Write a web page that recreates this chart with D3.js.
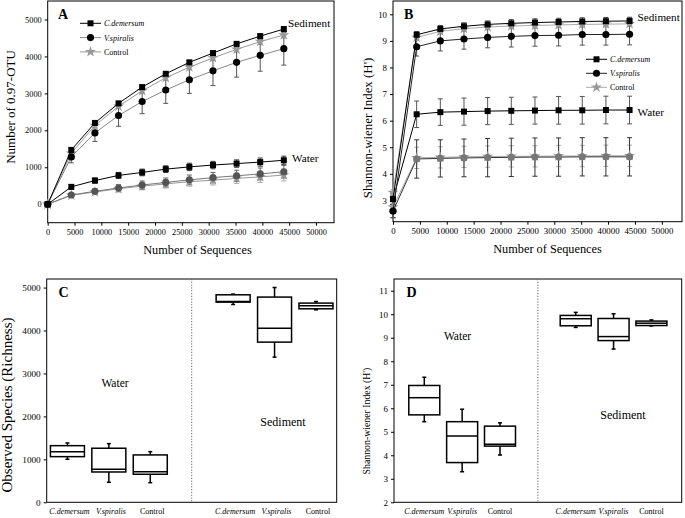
<!DOCTYPE html>
<html><head><meta charset="utf-8">
<script src="https://cdn.jsdelivr.net/npm/d3@7"></script>
<style>body{margin:0;background:#fff}svg{display:block}</style>
</head><body>
<svg id="c" width="685" height="518"></svg>
<script>
// ---------- DATA ----------
const seqDepth = [0,4400,8800,13200,17600,22000,26400,30800,35200,39600,44000];
const speciesNames = ["C.demersum","V.spiralis","Control"];

// Panel A: Number of 0.97-OTU
const otuSedimentCdem    = [0,1470,2200,2730,3170,3530,3840,4090,4340,4550,4740];
const otuSedimentCdemErr = [0,40,40,45,50,50,50,50,55,55,60];
const otuSedimentVspi    = [0,1280,1930,2400,2780,3090,3370,3610,3840,4030,4210];
const otuSedimentVspiErr = [0,160,230,290,330,360,370,400,400,430,445];
const otuSedimentCtrl    = [0,1380,2130,2650,3070,3420,3710,3960,4190,4400,4580];
const otuSedimentCtrlErr = [0,50,60,60,70,70,70,70,70,80,80];
const otuWaterCdem       = [0,470,640,780,860,950,1010,1060,1100,1140,1190];
const otuWaterCdemErr    = [0,60,70,80,90,90,100,100,100,110,110];
const otuWaterVspi       = [0,250,350,440,520,590,660,720,770,820,880];
const otuWaterVspiErr    = [0,50,70,90,110,120,130,140,150,160,170];
const otuWaterCtrl       = [0,240,330,420,490,550,610,650,700,740,790];
const otuWaterCtrlErr    = [0,50,70,90,100,110,120,130,140,150,160];

// Panel B: Shannon-wiener index
const shSedimentCdem    = [3.05,9.23,9.45,9.55,9.62,9.66,9.69,9.71,9.73,9.74,9.75];
const shSedimentCdemErr = [0.2,0.12,0.13,0.13,0.13,0.14,0.14,0.14,0.14,0.14,0.14];
const shSedimentVspi    = [2.6,8.78,9.0,9.07,9.13,9.17,9.2,9.21,9.24,9.24,9.25];
const shSedimentVspiErr = [0.25,0.35,0.38,0.38,0.39,0.4,0.4,0.4,0.4,0.4,0.4];
const shSedimentCtrl    = [3.3,9.13,9.36,9.46,9.52,9.56,9.58,9.6,9.62,9.63,9.64];
const shSedimentCtrlErr = [0.1,0.1,0.1,0.1,0.1,0.1,0.1,0.1,0.1,0.1,0.1];
const shWaterCdem       = [3.05,6.24,6.32,6.34,6.36,6.37,6.38,6.39,6.39,6.40,6.40];
const shWaterCdemErr    = [0.2,0.5,0.5,0.51,0.51,0.51,0.51,0.52,0.52,0.52,0.52];
const shWaterVspi       = [2.6,4.56,4.58,4.6,4.61,4.62,4.63,4.63,4.64,4.64,4.64];
const shWaterVspiErr    = [0.25,0.72,0.7,0.71,0.72,0.72,0.72,0.72,0.72,0.72,0.72];
const shWaterCtrl       = [2.75,4.6,4.62,4.64,4.65,4.66,4.66,4.67,4.67,4.68,4.68];
const shWaterCtrlErr    = [0.1,0.4,0.4,0.4,0.4,0.4,0.4,0.4,0.4,0.4,0.4];

// Panels C/D box stats: [min, q1, median, q3, max]
const boxSlots = ["W-C","W-V","W-K","gap","S-C","S-V","S-K"];
const richWaterCdem = [1002,1063,1179,1319,1382];
const richWaterVspi = [466,706,769,1259,1366];
const richWaterCtrl = [457,653,713,1103,1179];
const richSedCdem   = [4606,4662,4676,4832,4848];
const richSedVspi   = [3380,3730,4056,4779,5002];
const richSedCtrl   = [4483,4506,4576,4639,4676];
const shBoxWaterCdem = [5.43,5.72,6.45,6.97,7.32];
const shBoxWaterVspi = [3.30,3.69,4.82,5.43,5.96];
const shBoxWaterCtrl = [4.01,4.39,4.47,5.24,5.38];
const shBoxSedCdem   = [9.44,9.51,9.81,9.95,10.08];
const shBoxSedVspi   = [8.52,8.88,9.05,9.82,10.02];
const shBoxSedCtrl   = [9.50,9.52,9.62,9.71,9.76];

const xTicksSeq = [0,5000,10000,15000,20000,25000,30000,35000,40000,45000,50000];
const yTicksA = [0,1000,2000,3000,4000,5000];
const yTicksB = [3,4,5,6,7,8,9,10];
const yTicksC = [0,1000,2000,3000,4000,5000];
const yTicksD = [2,3,4,5,6,7,8,9,10,11];

// ---------- DRAW ----------
const FONT = "'Liberation Serif', Tinos, 'Times New Roman', serif";
const svg = d3.select("#c").attr("font-family", FONT);

function frame(g, x0, x1, y0, y1){
  g.append("rect").attr("x",x0).attr("y",y0).attr("width",x1-x0).attr("height",y1-y0)
   .attr("fill","none").attr("stroke","#000").attr("stroke-width",1);
}
function styleAxis(sel, fs){
  sel.attr("font-family", FONT);
  sel.select(".domain").remove();
  sel.selectAll(".tick line").attr("stroke","#000");
  sel.selectAll(".tick text").attr("font-size",fs+"px").attr("fill","#000").attr("font-family", FONT);
}

const symSquare = d3.symbol().type(d3.symbolSquare).size(36)();
const symCircle = d3.symbol().type(d3.symbolCircle).size(40)();
const symStar   = d3.symbol().type(d3.symbolStar).size(38)();

function linePanel(o){
  const g = svg.append("g");
  const x = d3.scaleLinear().domain(o.xDomain).range([o.x0,o.x1]);
  const y = d3.scaleLinear().domain(o.yDomain).range([o.y1,o.y0]);
  g.append("g").attr("transform",`translate(0,${o.y1})`)
    .call(d3.axisBottom(x).tickValues(xTicksSeq).tickFormat(d3.format("d")).tickSize(3).tickPadding(3)).call(s=>styleAxis(s,o.tickFs));
  g.append("g").attr("transform",`translate(${o.x0},0)`)
    .call(d3.axisLeft(y).tickValues(o.yTicks).tickFormat(d3.format("d")).tickSize(3).tickPadding(3)).call(s=>styleAxis(s,o.tickFs));
  frame(g,o.x0,o.x1,o.y0,o.y1);
  const line = d3.line().x((d,i)=>x(seqDepth[i])).y(d=>y(d));
  o.series.forEach(s=>{
    const eb = g.append("g").attr("stroke",s.errColor).attr("stroke-width",1);
    s.values.forEach((v,i)=>{
      const e = s.err[i]; if(!e) return;
      const cx = x(seqDepth[i]);
      eb.append("line").attr("x1",cx).attr("x2",cx).attr("y1",y(v-e)).attr("y2",y(v+e));
      [v-e,v+e].forEach(w=>eb.append("line").attr("x1",cx-2.5).attr("x2",cx+2.5).attr("y1",y(w)).attr("y2",y(w)));
    });
  });
  o.series.forEach(s=>{
    g.append("path").attr("d",line(s.values)).attr("fill","none").attr("stroke",s.lineColor).attr("stroke-width",1);
    g.selectAll(null).data(s.values).join("path").attr("d",s.sym)
      .attr("transform",(d,i)=>`translate(${x(seqDepth[i])},${y(d)})`).attr("fill",s.markColor);
  });
  o.legend.forEach((L,i)=>{
    const ly = o.legY + i*o.legStep;
    g.append("line").attr("x1",o.legX).attr("x2",o.legX+21).attr("y1",ly).attr("y2",ly).attr("stroke",L.lineColor);
    g.append("path").attr("d",L.sym).attr("transform",`translate(${o.legX+10.5},${ly})`).attr("fill",L.markColor);
    g.append("text").attr("x",o.legX+24).attr("y",ly+3).attr("font-size","8px")
      .attr("font-style",i<2?"italic":"normal").attr("fill","#000").text(speciesNames[i]);
  });
  g.append("text").attr("x",o.letX).attr("y",o.letY).attr("font-weight","bold").attr("font-size","14px").text(o.letter);
  o.notes.forEach(n=>g.append("text").attr("x",n[1]).attr("y",n[2]).attr("font-size","11.2px").text(n[0]));
  g.append("text").attr("x",o.xLabX).attr("y",o.y1+31).attr("text-anchor","middle").attr("font-size","12.3px").text("Number of Sequences");
  g.append("text").attr("transform",`translate(${o.yLabX},${o.yLabY}) rotate(-90)`).attr("text-anchor","middle").attr("font-size",o.yLabFs+"px").text(o.yLabel);
}

linePanel({
  x0:47.7,x1:334,y0:1,y1:222.7,xDomain:[0,53350],yDomain:[-500,5500],yTicks:yTicksA,tickFs:8.3,
  letter:"A",letX:58,letY:18.5,xLabX:197.5,
  yLabel:"Number of 0.97-OTU",yLabX:15,yLabY:107,yLabFs:13,
  notes:[["Sediment",288,27],["Water",292,162]],
  legX:80,legY:23.3,legStep:14.3,
  legend:[{lineColor:"#000",markColor:"#000",sym:symSquare},{lineColor:"#888",markColor:"#000",sym:symCircle},{lineColor:"#999",markColor:"#999",sym:symStar}],
  series:[
    {values:otuWaterCtrl,err:otuWaterCtrlErr,lineColor:"#999",markColor:"#999",errColor:"#aaa",sym:symStar},
    {values:otuWaterVspi,err:otuWaterVspiErr,lineColor:"#777",markColor:"#555",errColor:"#666",sym:symCircle},
    {values:otuWaterCdem,err:otuWaterCdemErr,lineColor:"#000",markColor:"#000",errColor:"#333",sym:symSquare},
    {values:otuSedimentCtrl,err:otuSedimentCtrlErr,lineColor:"#999",markColor:"#999",errColor:"#aaa",sym:symStar},
    {values:otuSedimentVspi,err:otuSedimentVspiErr,lineColor:"#888",markColor:"#000",errColor:"#555",sym:symCircle},
    {values:otuSedimentCdem,err:otuSedimentCdemErr,lineColor:"#000",markColor:"#000",errColor:"#333",sym:symSquare}
  ]
});

linePanel({
  x0:393,x1:682,y0:1,y1:221.7,xDomain:[0,53750],yDomain:[2.2,10.5],yTicks:yTicksB,tickFs:8.8,
  letter:"B",letX:404,letY:18.5,xLabX:547.5,
  yLabel:"Shannon-wiener Index (H')",yLabX:372,yLabY:128,yLabFs:12.9,
  notes:[["Sediment",637.5,21],["Water",637.5,116]],
  legX:586,legY:59.3,legStep:14,
  legend:[{lineColor:"#000",markColor:"#000",sym:symSquare},{lineColor:"#222",markColor:"#000",sym:symCircle},{lineColor:"#aaa",markColor:"#999",sym:symStar}],
  series:[
    {values:shWaterCtrl,err:shWaterCtrlErr,lineColor:"#aaa",markColor:"#999",errColor:"#aaa",sym:symStar},
    {values:shWaterVspi,err:shWaterVspiErr,lineColor:"#333",markColor:"#777",errColor:"#333",sym:symCircle},
    {values:shWaterCdem,err:shWaterCdemErr,lineColor:"#000",markColor:"#000",errColor:"#555",sym:symSquare},
    {values:shSedimentCtrl,err:shSedimentCtrlErr,lineColor:"#aaa",markColor:"#999",errColor:"#aaa",sym:symStar},
    {values:shSedimentVspi,err:shSedimentVspiErr,lineColor:"#222",markColor:"#000",errColor:"#555",sym:symCircle},
    {values:shSedimentCdem,err:shSedimentCdemErr,lineColor:"#000",markColor:"#000",errColor:"#444",sym:symSquare}
  ]
});

function boxPanel(o){
  const g = svg.append("g");
  const x = d3.scalePoint().domain(boxSlots).range([o.x0,o.x1]).padding(o.pad);
  const y = d3.scaleLinear().domain(o.yDomain).range([o.y1,o.y0]);
  g.append("g").attr("transform",`translate(${o.x0},0)`)
    .call(d3.axisLeft(y).tickValues(o.yTicks).tickFormat(d3.format("d")).tickSize(3).tickPadding(3)).call(s=>styleAxis(s,o.tickFs));
  frame(g,o.x0,o.x1,o.y0,o.y1);
  g.append("line").attr("x1",x("gap")).attr("x2",x("gap")).attr("y1",o.y0).attr("y2",o.y1)
    .attr("stroke","#666").attr("stroke-width",1).attr("stroke-dasharray","1.2,1.6");
  const hw = o.bw/2;
  o.boxes.forEach((b,i)=>{
    const slot = boxSlots[i<3?i:i+1];
    const cx = x(slot);
    const [mn,q1,md,q3,mx] = b;
    const bg = g.append("g").attr("stroke","#000").attr("stroke-width",1.5);
    bg.append("line").attr("x1",cx).attr("x2",cx).attr("y1",y(q3)).attr("y2",y(mx));
    bg.append("line").attr("x1",cx).attr("x2",cx).attr("y1",y(q1)).attr("y2",y(mn));
    bg.append("line").attr("x1",cx-2).attr("x2",cx+2).attr("y1",y(mx)).attr("y2",y(mx));
    bg.append("line").attr("x1",cx-2).attr("x2",cx+2).attr("y1",y(mn)).attr("y2",y(mn));
    bg.append("rect").attr("x",cx-hw).attr("y",y(q3)).attr("width",o.bw).attr("height",y(q1)-y(q3)).attr("fill","#fff");
    bg.append("line").attr("x1",cx-hw).attr("x2",cx+hw).attr("y1",y(md)).attr("y2",y(md));
    g.append("text").attr("x",cx+o.labDx).attr("y",o.y1+12).attr("text-anchor","middle").attr("font-size","8px")
      .attr("font-style",(i%3)<2?"italic":"normal").text(speciesNames[i%3]);
  });
  g.append("text").attr("x",o.letX).attr("y",o.letY).attr("font-weight","bold").attr("font-size","14px").text(o.letter);
  o.notes.forEach(n=>g.append("text").attr("x",n[1]).attr("y",n[2]).attr("text-anchor","middle").attr("font-size",n[3]+"px").text(n[0]));
  g.append("text").attr("transform",`translate(${o.yLabX},${o.yLabY}) rotate(-90)`).attr("text-anchor","middle").attr("font-size",o.yLabFs+"px").text(o.yLabel);
}

boxPanel({
  x0:46.7,x1:336.7,y0:279,y1:502.3,pad:0.5,bw:34,yDomain:[0,5200],yTicks:yTicksC,tickFs:9.2,labDx:2,
  letter:"C",letX:58.5,letY:297,
  yLabel:"Observed Species (Richness)",yLabX:12,yLabY:405,yLabFs:15,
  notes:[["Water",115,387,11.5],["Sediment",283,426,12]],
  boxes:[richWaterCdem,richWaterVspi,richWaterCtrl,richSedCdem,richSedVspi,richSedCtrl]
});

boxPanel({
  x0:394,x1:681.7,y0:279,y1:502.3,pad:0.8,bw:31,yDomain:[2,11.5],yTicks:yTicksD,tickFs:9,labDx:0,
  letter:"D",letX:406.5,letY:297,
  yLabel:"Shannon-wiener Index (H')",yLabX:370,yLabY:421,yLabFs:9.8,
  notes:[["Water",457.5,340,11.5],["Sediment",623,419,12]],
  boxes:[shBoxWaterCdem,shBoxWaterVspi,shBoxWaterCtrl,shBoxSedCdem,shBoxSedVspi,shBoxSedCtrl]
});
</script>
</body></html>
